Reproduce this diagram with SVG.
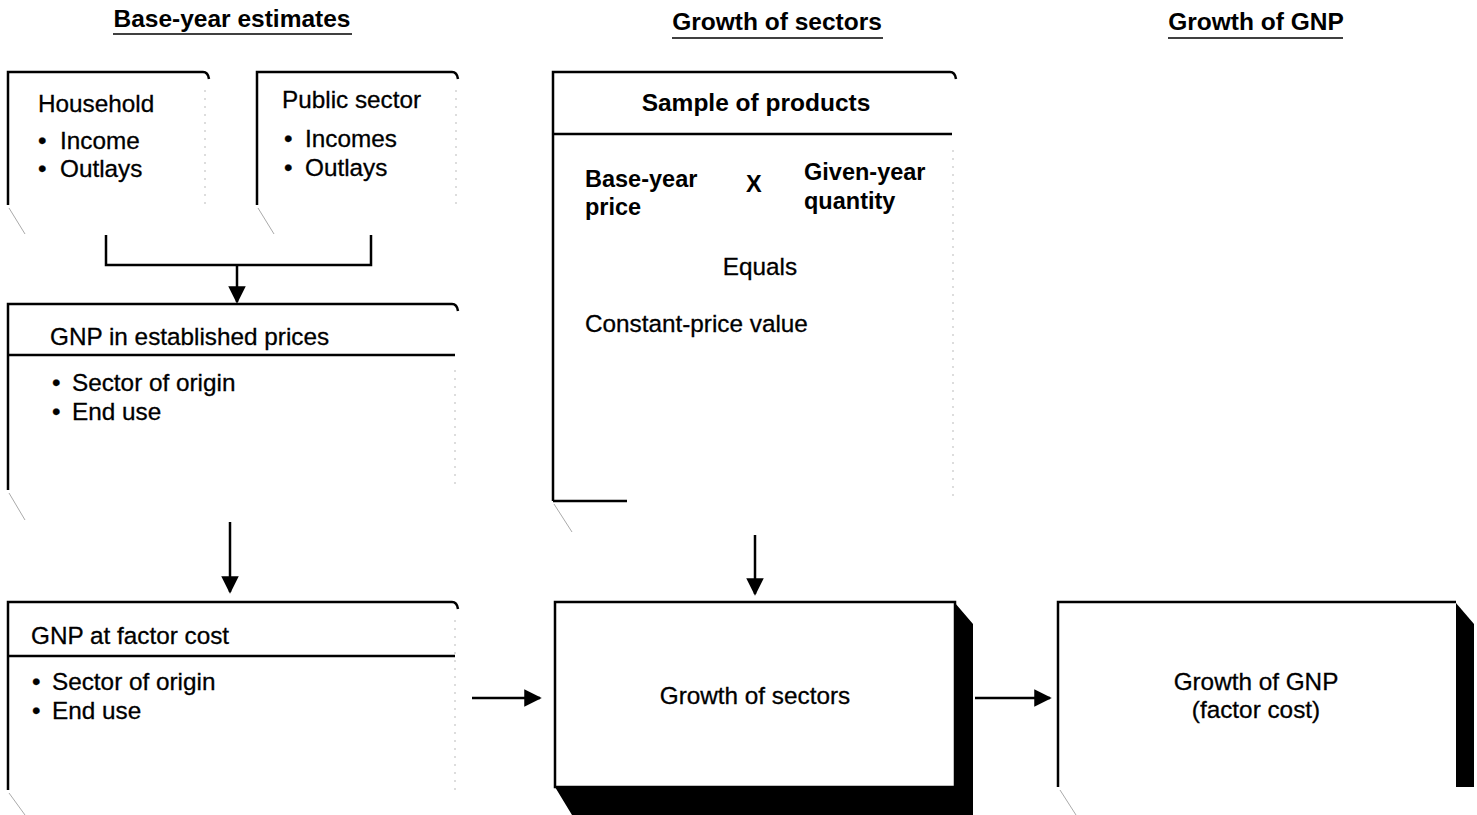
<svg xmlns="http://www.w3.org/2000/svg" width="1477" height="815" viewBox="0 0 1477 815">
<defs>
<style>
text{font-family:"Liberation Sans",Arial,sans-serif;font-size:24.3px;fill:#000;stroke:#000;stroke-width:0.3}
.b{font-weight:bold;font-size:23.5px;stroke-width:0}
.h{font-weight:bold;font-size:24.5px;stroke-width:0}
.t{font-weight:bold;font-size:24.5px;stroke-width:0}
.m{text-anchor:middle}
.edge{fill:none;stroke:#000;stroke-width:2.5}
.thin{fill:none;stroke:#000;stroke-width:1.6}
.faint{fill:none;stroke:#bbb;stroke-width:1;stroke-dasharray:2 6}
.diag{fill:none;stroke:#aaa;stroke-width:1}
.con{fill:none;stroke:#000;stroke-width:2.5}
</style>
<marker id="ah" viewBox="0 0 10 10" refX="9" refY="5" markerWidth="7" markerHeight="7" markerUnits="strokeWidth" orient="auto">
<path d="M0,0 L10,5 L0,10 z" fill="#000"/>
</marker>
</defs>

<g id="headers">
<text class="h m" x="232" y="27">Base-year estimates</text>
<line class="thin" x1="113" y1="34" x2="352" y2="34"/>
<text class="h m" x="777" y="30">Growth of sectors</text>
<line class="thin" x1="672" y1="38" x2="883" y2="38"/>
<text class="h m" x="1256" y="30">Growth of GNP</text>
<line class="thin" x1="1168" y1="38" x2="1343" y2="38"/>
</g>

<g id="household">
<path class="edge" d="M8,205 L8,72 L203,72 Q208,72 209,79"/>
<line class="faint" x1="205" y1="90" x2="205" y2="205"/>
<line class="diag" x1="9" y1="208" x2="25" y2="234"/>
<text x="38" y="112">Household</text>
<text x="38" y="149">•</text><text x="60" y="149">Income</text>
<text x="38" y="177">•</text><text x="60" y="177">Outlays</text>
</g>

<g id="public-sector">
<path class="edge" d="M257,205 L257,72 L452,72 Q457,72 458,79"/>
<line class="faint" x1="456" y1="90" x2="456" y2="205"/>
<line class="diag" x1="258" y1="208" x2="274" y2="234"/>
<text x="282" y="108">Public sector</text>
<text x="284" y="147">•</text><text x="305" y="147">Incomes</text>
<text x="284" y="176">•</text><text x="305" y="176">Outlays</text>
</g>

<g id="gnp-established">
<path class="edge" d="M8,490 L8,304 L452,304 Q457,304 458,311"/>
<line class="edge" x1="8" y1="355" x2="455" y2="355"/>
<line class="faint" x1="455" y1="370" x2="455" y2="490"/>
<line class="diag" x1="9" y1="493" x2="25" y2="520"/>
<text x="50" y="345">GNP in established prices</text>
<text x="52" y="391">•</text><text x="72" y="391">Sector of origin</text>
<text x="52" y="420">•</text><text x="72" y="420">End use</text>
</g>

<g id="gnp-factor-cost">
<path class="edge" d="M8,790 L8,602 L452,602 Q457,602 458,609"/>
<line class="edge" x1="8" y1="656" x2="455" y2="656"/>
<line class="faint" x1="455" y1="620" x2="455" y2="790"/>
<line class="diag" x1="9" y1="793" x2="25" y2="815"/>
<text x="31" y="644">GNP at factor cost</text>
<text x="32" y="690">•</text><text x="52" y="690">Sector of origin</text>
<text x="32" y="719">•</text><text x="52" y="719">End use</text>
</g>

<g id="sample-of-products">
<path class="edge" d="M553,501 L553,72 L950,72 Q955,72 956,79"/>
<line class="edge" x1="553" y1="134" x2="952" y2="134"/>
<line class="edge" x1="553" y1="501" x2="627" y2="501"/>
<line class="faint" x1="953" y1="150" x2="953" y2="500"/>
<line class="diag" x1="554" y1="504" x2="572" y2="532"/>
<text class="t m" x="756" y="111">Sample of products</text>
<text class="b" x="585" y="187">Base-year</text>
<text class="b" x="585" y="215">price</text>
<text class="b" x="746" y="192">X</text>
<text class="b" x="804" y="180">Given-year</text>
<text class="b" x="804" y="209">quantity</text>
<text class="m" x="760" y="275">Equals</text>
<text x="585" y="332">Constant-price value</text>
</g>

<g id="growth-of-sectors">
<path d="M955,603 L973,624 L973,815 L572,815 L555,787 L955,787 Z" fill="#000"/>
<rect x="555" y="602" width="400" height="185" fill="#fff" stroke="#000" stroke-width="2.5"/>
<text class="m" x="755" y="704">Growth of sectors</text>
</g>

<g id="growth-of-gnp">
<path d="M1456,603 L1474,624 L1474,787 L1456,787 Z" fill="#000"/>
<path class="edge" d="M1058,787 L1058,602 L1456,602"/>
<line class="diag" x1="1060" y1="790" x2="1076" y2="815"/>
<text class="m" x="1256" y="690">Growth of GNP</text>
<text class="m" x="1256" y="718">(factor cost)</text>
</g>

<g id="connectors">
<path class="con" d="M106,235 L106,265 L371,265 L371,235"/>
<line class="con" x1="237" y1="265" x2="237" y2="302" marker-end="url(#ah)"/>
<line class="con" x1="230" y1="522" x2="230" y2="592" marker-end="url(#ah)"/>
<line class="con" x1="755" y1="535" x2="755" y2="594" marker-end="url(#ah)"/>
<line class="con" x1="472" y1="698" x2="540" y2="698" marker-end="url(#ah)"/>
<line class="con" x1="975" y1="698" x2="1050" y2="698" marker-end="url(#ah)"/>
</g>
</svg>
